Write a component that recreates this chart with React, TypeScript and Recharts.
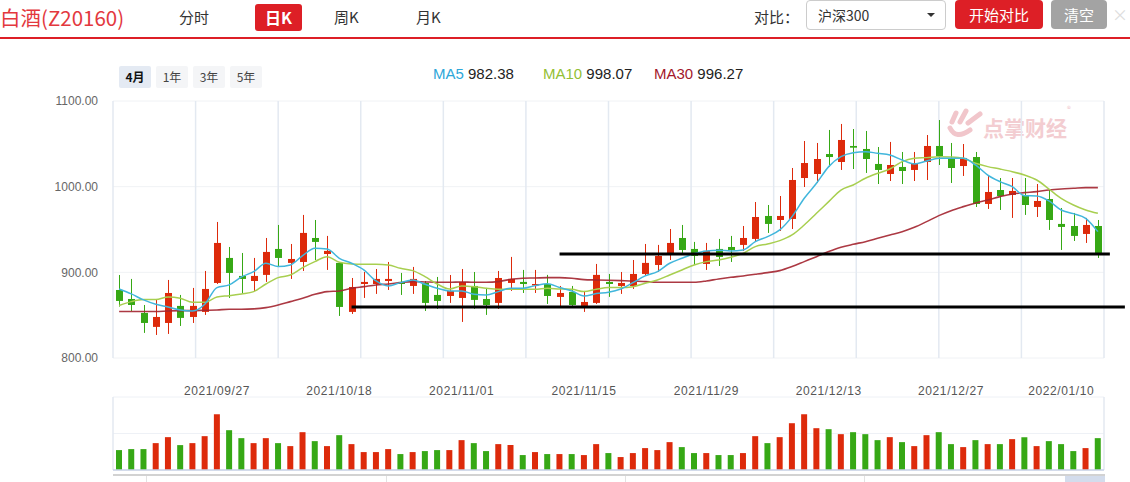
import React from "react";
import { Bar, CartesianGrid, Cell, ComposedChart, Line, ReferenceLine, XAxis, YAxis } from "recharts";

const dates = [
  '2021/09/13', '2021/09/14', '2021/09/15', '2021/09/16', '2021/09/17', '2021/09/22', '2021/09/23', '2021/09/24', '2021/09/27', '2021/09/28',
  '2021/09/29', '2021/09/30', '2021/10/08', '2021/10/11', '2021/10/12', '2021/10/13', '2021/10/14', '2021/10/15', '2021/10/18', '2021/10/19',
  '2021/10/20', '2021/10/21', '2021/10/22', '2021/10/25', '2021/10/26', '2021/10/27', '2021/10/28', '2021/10/29', '2021/11/01', '2021/11/02',
  '2021/11/03', '2021/11/04', '2021/11/05', '2021/11/08', '2021/11/09', '2021/11/10', '2021/11/11', '2021/11/12', '2021/11/15', '2021/11/16',
  '2021/11/17', '2021/11/18', '2021/11/19', '2021/11/22', '2021/11/23', '2021/11/24', '2021/11/25', '2021/11/26', '2021/11/29', '2021/11/30',
  '2021/12/01', '2021/12/02', '2021/12/03', '2021/12/06', '2021/12/07', '2021/12/08', '2021/12/09', '2021/12/10', '2021/12/13', '2021/12/14',
  '2021/12/15', '2021/12/16', '2021/12/17', '2021/12/20', '2021/12/21', '2021/12/22', '2021/12/23', '2021/12/24', '2021/12/27', '2021/12/28',
  '2021/12/29', '2021/12/30', '2021/12/31', '2022/01/04', '2022/01/05', '2022/01/06', '2022/01/07', '2022/01/10', '2022/01/11', '2022/01/12',
  '2022/01/13',
];

const tickDates = ['2021/09/27', '2021/10/18', '2021/11/01', '2021/11/15', '2021/11/29', '2021/12/13', '2021/12/27', '2022/01/10'];
const priceTicks = [800, 900, 1000, 1100];

const open = [
  879.4, 868.9, 852.6, 836.3, 840.9, 860.8, 847.9, 853.8, 887.6, 916.8,
  895.8, 889.9, 897.0, 927.3, 911.0, 912.1, 940.1, 921.4, 911.0, 853.8,
  886.4, 886.4, 889.9, 888.8, 884.1, 887.6, 873.6, 872.4, 870.1, 884.1,
  868.9, 864.3, 887.6, 888.8, 885.3, 886.4, 871.3, 877.1, 860.8, 864.3,
  888.8, 884.1, 884.1, 898.1, 908.6, 921.4, 940.1, 927.3, 909.8, 927.3,
  929.6, 932.0, 939.0, 965.8, 961.1, 962.3, 1010.1, 1014.8, 1038.1, 1028.8,
  1047.5, 1044.0, 1026.5, 1014.8, 1023.0, 1019.5, 1028.8, 1047.5, 1032.3, 1024.1,
  1034.6, 979.8, 996.1, 990.3, 990.3, 976.3, 985.6, 956.5, 954.1, 944.8,
  954.1,
];
const close = [
  866.6, 861.9, 840.9, 847.9, 875.9, 846.8, 860.8, 880.6, 934.3, 899.3,
  892.3, 895.8, 923.8, 916.8, 915.6, 946.0, 935.5, 925.0, 859.6, 882.9,
  888.8, 892.3, 892.3, 886.4, 892.3, 864.3, 866.6, 878.3, 888.8, 867.8,
  861.9, 893.4, 892.3, 886.4, 886.4, 872.4, 875.9, 861.9, 865.4, 897.0,
  886.4, 887.6, 898.1, 911.0, 919.1, 934.3, 926.1, 919.1, 925.0, 918.0,
  926.1, 940.1, 964.6, 956.5, 965.8, 1007.8, 1027.6, 1032.3, 1034.6, 1054.5,
  1045.5, 1032.3, 1019.5, 1025.3, 1018.3, 1027.6, 1047.5, 1035.8, 1021.8, 1033.5,
  979.8, 993.8, 989.1, 995.0, 978.6, 983.3, 961.1, 953.0, 942.5, 955.3,
  921.5,
];
const high = [
  896.9, 892.3, 861.9, 867.8, 891.1, 873.6, 881.8, 901.6, 958.8, 929.6,
  922.6, 916.8, 940.1, 955.3, 933.1, 967.0, 961.1, 942.5, 912.1, 893.4,
  900.4, 903.9, 912.1, 899.3, 906.3, 889.9, 894.6, 896.9, 903.9, 900.4,
  881.8, 901.6, 918.0, 902.8, 902.8, 897.0, 884.1, 884.1, 878.3, 909.8,
  898.1, 900.4, 914.4, 933.1, 932.0, 950.6, 955.3, 935.5, 934.3, 939.0,
  942.5, 954.1, 982.1, 978.6, 989.1, 1021.8, 1053.3, 1051.0, 1066.2, 1073.2,
  1067.3, 1065.0, 1046.3, 1052.2, 1040.5, 1040.5, 1060.3, 1077.8, 1051.0, 1049.8,
  1040.5, 1013.6, 1010.1, 1010.1, 1010.1, 1003.1, 997.3, 975.1, 969.3, 963.5,
  961.1,
];
const low = [
  860.0, 854.9, 829.3, 826.9, 828.1, 837.4, 840.9, 850.3, 886.4, 870.1,
  875.9, 878.3, 888.8, 906.3, 892.3, 901.6, 914.4, 902.8, 849.1, 851.4,
  870.1, 874.8, 879.4, 873.6, 874.8, 854.9, 857.3, 864.3, 842.1, 857.3,
  850.3, 857.3, 878.3, 875.9, 875.9, 863.1, 859.6, 860.8, 853.8, 863.1,
  871.3, 874.8, 880.6, 895.8, 900.4, 914.4, 922.6, 908.6, 902.8, 907.4,
  912.1, 925.0, 935.5, 946.0, 948.3, 950.6, 999.6, 1004.3, 1023.0, 1019.5,
  1020.6, 1016.0, 1003.1, 1006.6, 1003.1, 1006.6, 1007.8, 1025.3, 1004.3, 1012.5,
  976.3, 974.0, 972.8, 963.5, 967.0, 964.6, 949.5, 926.1, 936.6, 934.3,
  916.8,
];
const volume = [
  60, 63, 63, 81, 99, 75, 81, 102, 168, 120,
  96, 81, 96, 81, 72, 114, 87, 72, 105, 78,
  54, 54, 63, 48, 54, 57, 60, 60, 90, 81,
  57, 78, 75, 45, 54, 48, 48, 48, 45, 78,
  51, 39, 51, 66, 60, 84, 69, 51, 51, 45,
  45, 51, 102, 81, 99, 141, 168, 126, 123, 108,
  114, 108, 90, 99, 84, 72, 105, 114, 78, 69,
  90, 78, 78, 93, 99, 72, 87, 78, 57, 66,
  96,
];
const ma5 = [
  880.6, 874.8, 867.8, 862.7, 859.6, 856.1, 854.9, 862.7, 882.2, 885.3,
  894.6, 900.8, 910.6, 906.7, 908.6, 919.5, 928.1, 927.3, 916.4, 910.6,
  902.8, 889.9, 884.1, 888.0, 891.1, 886.0, 881.4, 878.3, 878.3, 874.4,
  873.6, 877.5, 881.4, 881.4, 884.5, 886.8, 882.2, 878.3, 872.4, 875.2,
  876.7, 880.6, 888.0, 895.8, 900.8, 910.6, 916.4, 921.8, 925.0, 925.7,
  925.0, 926.1, 935.8, 941.7, 949.5, 965.0, 986.4, 1003.9, 1023.4, 1035.0,
  1039.7, 1040.9, 1038.9, 1037.0, 1031.1, 1026.5, 1030.0, 1033.1, 1033.1, 1033.1,
  1025.3, 1013.6, 1005.9, 1000.0, 989.5, 989.1, 983.3, 972.8, 968.5, 963.1,
  947.5,
];
const ma10 = [
  861.2, 865.8, 868.2, 868.2, 871.3, 869.7, 865.0, 865.0, 871.3, 872.8,
  874.8, 877.5, 886.4, 893.8, 896.9, 905.5, 912.5, 918.3, 911.7, 909.8,
  909.4, 909.4, 908.6, 904.7, 902.0, 895.0, 886.4, 880.6, 884.1, 883.3,
  881.4, 880.2, 880.2, 880.2, 880.2, 881.4, 880.6, 880.2, 877.5, 880.2,
  882.2, 882.2, 883.3, 887.2, 891.1, 896.9, 902.8, 908.6, 912.5, 914.4,
  917.6, 922.2, 930.0, 933.1, 937.0, 943.6, 955.3, 968.9, 982.5, 996.1,
  1002.0, 1009.8, 1015.6, 1020.6, 1029.2, 1033.1, 1033.9, 1035.0, 1034.6, 1033.1,
  1027.3, 1023.4, 1020.6, 1017.5, 1013.6, 1007.8, 997.3, 986.4, 978.6, 972.8,
  968.9,
];
const ma30 = [
  854.2, 854.2, 854.2, 854.2, 854.9, 855.3, 855.3, 855.7, 856.1, 856.9,
  856.9, 857.3, 858.8, 861.9, 865.8, 869.7, 874.4, 877.5, 878.3, 881.4,
  883.3, 885.3, 886.4, 888.0, 889.2, 888.8, 888.4, 888.4, 888.8, 888.4,
  888.4, 889.2, 891.9, 893.1, 893.4, 893.8, 893.8, 893.1, 891.5, 891.1,
  890.7, 890.3, 889.9, 889.2, 888.4, 888.4, 888.4, 888.4, 889.9, 892.3,
  894.2, 895.8, 897.7, 899.7, 902.0, 906.7, 912.5, 918.3, 924.2, 929.2,
  932.7, 935.8, 939.7, 943.6, 947.5, 952.6, 959.2, 966.2, 972.0, 976.7,
  981.0, 984.5, 988.4, 991.5, 993.0, 994.2, 996.1, 997.3, 998.1, 998.9,
  998.9,
];

// hand-drawn support lines on the original screenshot
const supportUpper = 921.5;
const supportLower = 859.6;

const RED = "#dd2a0b";
const GREEN = "#36a815";
const FONT_AX = '"Liberation Sans", Arial, sans-serif';
const FONT_CJK = '"Noto Sans CJK SC", "Noto Sans", sans-serif';

const data = dates.map((date, i) => ({
  date,
  open: open[i],
  close: close[i],
  high: high[i],
  low: low[i],
  vol: volume[i],
  ma5: ma5[i],
  ma10: ma10[i],
  ma30: ma30[i],
}));

const Candle = (props: any) => {
  const { x, y, width, height, payload } = props;
  if (payload == null) return null;
  const { open: o, close: c, high: h, low: l } = payload;
  const color = c >= o ? RED : GREEN;
  const top = Math.min(y, y + height);
  const span = Math.abs(height);
  const k = span / (h - l || 1);
  const yOf = (v: number) => top + (h - v) * k;
  const cx = Math.round(x + width / 2) + 0.5;
  const bTop = yOf(Math.max(o, c));
  const bBot = yOf(Math.min(o, c));
  return (
    <g>
      <line x1={cx} x2={cx} y1={top} y2={top + span} stroke={color} strokeWidth={1} />
      <rect x={cx - 3.5} y={bTop} width={7} height={Math.max(1.5, bBot - bTop)} fill={color} />
    </g>
  );
};

const DateTick = ({ x, y, payload }: any) => (
  <text x={x} y={y + 37} textAnchor="middle" fill="#555" fontSize={12} fontFamily={FONT_AX} letterSpacing={0.6}>
    {payload.value}
  </text>
);

const extLine = (ext: number) => (p: any) => (
  <line x1={p.x1} y1={p.y1} x2={p.x2 + ext} y2={p.y2} stroke="#000" strokeWidth={3} />
);

const tab = (left: number): React.CSSProperties => ({
  position: "absolute", left, top: 5, fontSize: 15, color: "#333", lineHeight: "24px",
});

const periodBtn = (left: number, active: boolean): React.CSSProperties => ({
  position: "absolute", left, top: 66, width: 32, height: 22, lineHeight: "22px", textAlign: "center",
  fontSize: 12, borderRadius: 2, background: active ? "#e4eaf3" : "#f4f5f7",
  color: active ? "#111" : "#444", fontWeight: active ? 700 : 400,
});

const btn = (left: number, width: number, bg: string): React.CSSProperties => ({
  position: "absolute", left, top: 0, width, height: 29, lineHeight: "29px", textAlign: "center",
  background: bg, color: "#fff", fontSize: 15, borderRadius: 4,
});

export default function App() {
  return (
    <div style={{ position: "absolute", left: 0, top: 0, width: 1130, height: 482, overflow: "hidden", background: "#fff", fontFamily: FONT_CJK }}>
      {/* header bar */}
      <div style={{ position: "absolute", left: 0, top: 3, fontSize: 20.5, color: "#e3383e", lineHeight: "28px" }}>白酒(Z20160)</div>
      <div style={tab(179)}>分时</div>
      <div style={{ position: "absolute", left: 255, top: 4, width: 47, height: 27, lineHeight: "27px", textAlign: "center", background: "#dd1f26", color: "#fff", fontSize: 16, fontWeight: 700, borderRadius: 3 }}>日K</div>
      <div style={tab(334)}>周K</div>
      <div style={tab(416)}>月K</div>
      <div style={{ ...tab(754) }}>对比：</div>
      <div style={{ position: "absolute", left: 806, top: 0, width: 138, height: 28, border: "1px solid #ccc", borderRadius: 4, background: "#fff" }}>
        <div style={{ position: "absolute", left: 11, top: 2, fontSize: 14, color: "#333", lineHeight: "24px" }}>沪深300</div>
        <div style={{ position: "absolute", left: 120, top: 12, width: 0, height: 0, borderLeft: "4px solid transparent", borderRight: "4px solid transparent", borderTop: "4px solid #333" }} />
      </div>
      <div style={btn(955, 88, "#dd1f26")}>开始对比</div>
      <div style={btn(1051, 56, "#a3a3a3")}>清空</div>
      <div style={{ position: "absolute", left: 1112, top: 3, width: 14, fontSize: 16, color: "#ddd", lineHeight: "22px", textAlign: "center" }}>×</div>
      <div style={{ position: "absolute", left: 0, top: 37, width: 1130, height: 2, background: "#dd1f26" }} />

      {/* period buttons */}
      <div style={periodBtn(119, true)}>4月</div>
      <div style={periodBtn(156, false)}>1年</div>
      <div style={periodBtn(193, false)}>3年</div>
      <div style={periodBtn(230, false)}>5年</div>

      {/* MA legend */}
      <div style={{ position: "absolute", left: 433, top: 65, fontSize: 15, fontFamily: FONT_AX, lineHeight: "18px", whiteSpace: "nowrap" }}>
        <span style={{ color: "#2ea7d9" }}>MA5</span> <span style={{ color: "#222" }}>982.38</span>
      </div>
      <div style={{ position: "absolute", left: 543, top: 65, fontSize: 15, fontFamily: FONT_AX, lineHeight: "18px", whiteSpace: "nowrap" }}>
        <span style={{ color: "#93c034" }}>MA10</span> <span style={{ color: "#222" }}>998.07</span>
      </div>
      <div style={{ position: "absolute", left: 654, top: 65, fontSize: 15, fontFamily: FONT_AX, lineHeight: "18px", whiteSpace: "nowrap" }}>
        <span style={{ color: "#a3172b" }}>MA30</span> <span style={{ color: "#222" }}>996.27</span>
      </div>

      {/* watermark */}
      <svg style={{ position: "absolute", left: 946, top: 108 }} width={40} height={34}>
        <g stroke="#f1c6cb" strokeWidth={5} strokeLinecap="round" fill="none">
          <line x1={6} y1={14} x2={10} y2={5} />
          <line x1={14} y1={14} x2={20} y2={3} />
          <line x1={22} y1={15} x2={34} y2={6} />
          <path d="M4 20 Q10 32 24 22" />
        </g>
      </svg>
      <div style={{ position: "absolute", left: 983, top: 113, fontSize: 21, fontWeight: 700, color: "#f3cdd1", lineHeight: "28px" }}>点掌财经</div>
      <div style={{ position: "absolute", left: 1067, top: 104, fontSize: 8, color: "#f1c6cb", lineHeight: "10px" }}>®</div>

      {/* price chart */}
      <div style={{ position: "absolute", left: 0, top: 0 }}>
        <ComposedChart width={1130} height={400} data={data} margin={{ top: 101, right: 26, bottom: 0, left: 53 }}>
          <CartesianGrid vertical={false} stroke="#f0f2f5" />
          <CartesianGrid
            horizontal={false}
            stroke="#e3e9f1"
            strokeWidth={1.5}
            verticalCoordinatesGenerator={({ offset }: any) =>
              Array.from({ length: 13 }, (_, k) => offset.left + (k * offset.width) / 12)
            }
          />
          <XAxis
            dataKey="date"
            ticks={tickDates}
            interval={0}
            height={42}
            tickLine={false}
            axisLine={false}
            tickSize={0}
            tickMargin={0}
            tick={<DateTick />}
          />
          <YAxis
            domain={[800, 1100]}
            ticks={priceTicks}
            allowDataOverflow
            width={60}
            axisLine={false}
            tickLine={false}
            tickSize={0}
            tickMargin={15}
            tickFormatter={(v: number) => v.toFixed(2)}
            tick={{ fill: "#666", fontSize: 12, fontFamily: FONT_AX }}
          />
          <Bar dataKey={(d: any) => [d.low, d.high]} shape={<Candle />} isAnimationActive={false} />
          <Line type="monotone" dataKey="ma30" stroke="#a3242f" strokeOpacity={0.9} strokeWidth={1.6} dot={false} isAnimationActive={false} />
          <Line type="monotone" dataKey="ma10" stroke="#a8cf50" strokeWidth={1.5} dot={false} isAnimationActive={false} />
          <Line type="monotone" dataKey="ma5" stroke="#41b6dc" strokeWidth={1.5} dot={false} isAnimationActive={false} />
          <ReferenceLine
            segment={[{ x: dates[36], y: supportUpper }, { x: dates[80], y: supportUpper }]}
            ifOverflow="visible"
            shape={extLine(12)}
          />
          <ReferenceLine
            segment={[{ x: dates[19], y: supportLower }, { x: dates[80], y: supportLower }]}
            ifOverflow="visible"
            shape={extLine(27)}
          />
        </ComposedChart>
      </div>

      {/* volume chart */}
      <div style={{ position: "absolute", left: 0, top: 0 }}>
        <ComposedChart width={1130} height={482} data={data} margin={{ top: 397, right: 26, bottom: 12, left: 113 }}>
          <CartesianGrid vertical={false} stroke="#eef1f6" />
          <CartesianGrid
            horizontal={false}
            stroke="#e3e9f1"
            strokeWidth={1.5}
            verticalCoordinatesGenerator={({ offset }: any) => [offset.left, offset.left + offset.width]}
          />
          <XAxis dataKey="date" hide />
          <YAxis hide domain={[0, 220]} ticks={[0, 55, 110, 165, 220]} />
          <Bar dataKey="vol" barSize={6} isAnimationActive={false}>
            {data.map((d, i) => (
              <Cell key={i} fill={d.close >= d.open ? RED : GREEN} />
            ))}
          </Bar>
          <ReferenceLine y={0} stroke="#c7d2e6" strokeWidth={1.5} />
        </ComposedChart>
      </div>

      {/* data zoom strip at the bottom */}
      <div style={{ position: "absolute", left: 113, top: 474, width: 992, height: 2, background: "#d2d2d2" }} />
      {[146, 386, 625, 864].map((x) => (
        <div key={x} style={{ position: "absolute", left: x, top: 476, width: 1, height: 6, background: "#e2e2e2" }} />
      ))}
      <div style={{ position: "absolute", left: 1065, top: 476, width: 40, height: 6, background: "#d3dcec" }} />
    </div>
  );
}
